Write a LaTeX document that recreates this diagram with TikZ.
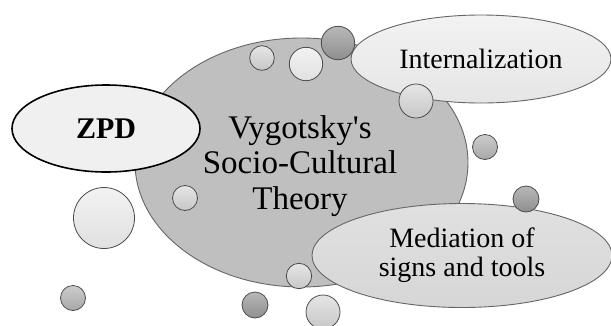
\documentclass[tikz,border=0pt]{standalone}
\usepackage{fontspec}
\setmainfont{Liberation Serif}[Ligatures=TeXOff]
\usetikzlibrary{shapes.geometric}
\begin{document}
\begin{tikzpicture}[x=1pt,y=-1pt,
  bigell/.style={ellipse, inner sep=0pt, align=center, draw=black!60, line width=0.9pt},
  bub/.style={circle, inner sep=0pt, draw=black!70, line width=0.8pt},
  bubvl/.style={bub, top color=black!5, bottom color=black!12},
  bubl/.style={bub, top color=black!10, bottom color=black!22},
  bubm/.style={bub, top color=black!20, bottom color=black!34},
  bubd/.style={bub, top color=black!28, bottom color=black!44}]
\useasboundingbox (0,0) rectangle (611,325);
\node[bigell, fill=black!25, minimum width=333pt, minimum height=249pt] (main) at (301.5,162.5) {};
\node[bigell, draw=black, line width=1.6pt, fill=black!6, minimum width=188pt, minimum height=87pt,
  font=\fontsize{30}{34}\selectfont\bfseries] (zpd) at (106,128.5) {ZPD};
\node[bigell, top color=black!5, bottom color=black!10, minimum width=260pt, minimum height=88pt,
  font=\fontsize{28}{32}\selectfont] (int) at (481,59) {Internalization};
\node[bigell, top color=black!12, bottom color=black!16, minimum width=300pt, minimum height=104pt,
  font=\fontsize{28}{29}\selectfont] (med) at (462,255.5) {Mediation of\\signs and tools};
\node[font=\fontsize{33}{35.5}\selectfont, align=center] (maintext) at (300,166) {Vygotsky's\\Socio-Cultural\\Theory};
\node[bubl, minimum size=24.6pt] (c1) at (262,58) {};
\node[bubvl, minimum size=33.4pt] (c2) at (306,64) {};
\node[bubd, minimum size=33.4pt] (c3) at (338,43) {};
\node[bubl, minimum size=34pt] (c4) at (416,101) {};
\node[bubm, minimum size=25pt] (c5) at (485,147) {};
\node[bubl, minimum size=25pt] (c6) at (185,198) {};
\node[bubvl, minimum size=61pt] (c7) at (104,218) {};
\node[bubm, minimum size=25pt] (c8) at (73,298) {};
\node[bubd, minimum size=26pt] (c9) at (255,305) {};
\node[bubl, minimum size=25.4pt] (c10) at (299,276) {};
\node[bubl, minimum size=34pt] (c11) at (323,312) {};
\node[bubd, minimum size=26pt] (c12) at (526,199) {};
\end{tikzpicture}
\end{document}
